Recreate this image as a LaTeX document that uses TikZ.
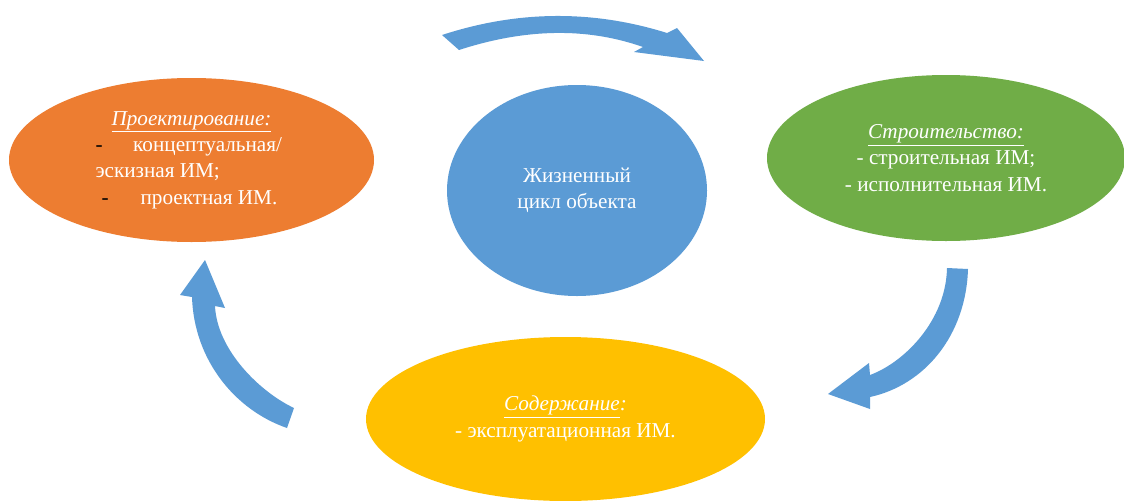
\documentclass[tikz,border=0pt]{standalone}
\usepackage{fontspec}
\setmainfont{Liberation Serif}
\usetikzlibrary{shapes.geometric}
\definecolor{cOrange}{HTML}{ED7D31}
\definecolor{cGreen}{HTML}{70AD47}
\definecolor{cYellow}{HTML}{FFC000}
\definecolor{cBlue}{HTML}{5B9BD5}
\tikzset{
  blob/.style={ellipse, inner sep=0pt, text=white, align=center,
    font=\fontsize{15.9pt}{19.8pt}\selectfont},
  arrowfill/.style={fill=cBlue}
}
\begin{document}
\begin{tikzpicture}[x=0.75pt,y=-0.75pt]
\useasboundingbox (0,0) rectangle (1124,500);
\clip (0,0) rectangle (1124,500);
\fill[white] (0,0) rectangle (1124,500);
% ellipses
\node[blob, fill=cOrange, minimum width=273.75pt, minimum height=123pt] (proj) at (191.5,160) {%
  \parbox{144pt}{\raggedright
  \makebox[144pt]{\underline{\textit{Проектирование:}}}\\
  \textcolor{black}{-}\hspace{23pt}концептуальная/\\
  эскизная ИМ;\\
  \hspace{4.5pt}\textcolor{black}{-}\hspace{24pt}проектная ИМ.}};
\node[blob, fill=cGreen, minimum width=268.5pt, minimum height=124.5pt] (stroi) at (946,158) {%
  \underline{\textit{Строительство:}}\\
  - строительная ИМ;\\
  - исполнительная ИМ.};
\node[blob, fill=cYellow, minimum width=299.25pt, minimum height=123pt] (sod) at (565.5,419) {%
  \underline{\textit{Содержание}}\textit{:}\\
  - эксплуатационная ИМ.};
\node[blob, fill=cBlue, minimum width=195pt, minimum height=158.25pt] (zh) at (577,190.5) {%
  Жизненный\\цикл объекта};
% arrows
\fill[arrowfill] (442,35) .. controls (517.7,10.3) and (592.7,9.7) .. (667,33)
  -- (677,28) -- (704,61) -- (634,52) -- (643,47)
  .. controls (587,27.3) and (525.7,28.3) .. (459,50) -- cycle;
\fill[arrowfill] (947,268) -- (968,269) .. controls (966,335) and (925,385) .. (870,397)
  -- (870,409) -- (828,394) -- (869,363) -- (870,375)
  .. controls (905,362) and (946,320) .. (947,268) -- cycle;
\fill[arrowfill] (294,408) .. controls (260,392) and (217,350) .. (215,306)
  -- (225,308) -- (205,260) -- (180,295) -- (192,297)
  .. controls (194,360) and (235,410) .. (287,428) -- cycle;
\end{tikzpicture}
\end{document}
